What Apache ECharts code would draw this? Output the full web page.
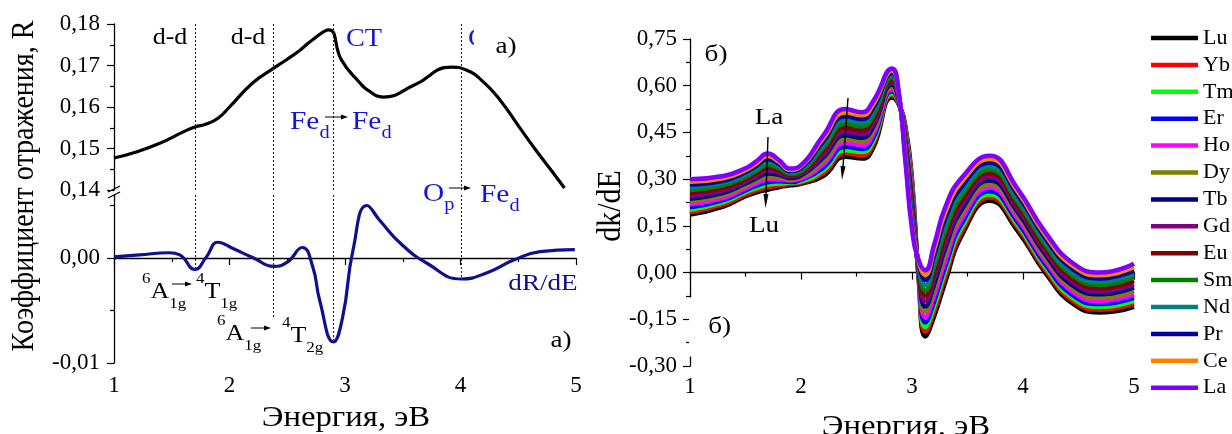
<!DOCTYPE html>
<html>
<head>
<meta charset="utf-8">
<script src="https://cdn.jsdelivr.net/npm/echarts@6/dist/echarts.min.js"></script>
<style>
  html, body { margin: 0; padding: 0; background: #fff; }
  #chart { width: 1232px; height: 434px; }
</style>
</head>
<body>
<div id="chart"></div>
<script>
const FONT = 'Liberation Serif';
const BLUE = '#1414e0';
const NAVY = '#10108f';
const WIDE = 1.13; // horizontal widening of annotation glyphs

// ---- Left panel: reflectance R(E) ----
const energyR = [1.0, 1.2, 1.4, 1.6, 1.7, 1.8, 1.9, 2.0, 2.2, 2.38, 2.5, 2.61, 2.72, 2.86, 2.97, 3.13, 3.2, 3.33, 3.6, 3.92, 4.05, 4.2, 4.35, 4.5, 4.65, 4.8, 4.9];
const reflR   = [0.1477, 0.1492, 0.1513, 0.1540, 0.1552, 0.1559, 0.1573, 0.1600, 0.1658, 0.1693, 0.1715, 0.1737, 0.1762, 0.1786, 0.1713, 0.1658, 0.1640, 0.1624, 0.1653, 0.1696, 0.1689, 0.1660, 0.1614, 0.1555, 0.1497, 0.1442, 0.1405];

// ---- Left panel: derivative dR/dE ----
const energyD = [1.0, 1.22, 1.48, 1.57, 1.7, 1.8, 1.9, 2.03, 2.21, 2.38, 2.5, 2.63, 2.72, 2.78, 2.9, 2.98, 3.07, 3.19, 3.3, 3.48, 3.71, 4.01, 4.23, 4.46, 4.69, 4.99];
const dRdE    = [0.0001, 0.0003, 0.0005, 0.0003, -0.0011, 0.0001, 0.0015, 0.0009, 0.0000, -0.0008, -0.0004, 0.0010, -0.0008, -0.0040, -0.0080, -0.0056, 0.0008, 0.0050, 0.0036, 0.0014, -0.0005, -0.0020, -0.0014, -0.0002, 0.0006, 0.0008];

// transition energies (dotted guides) and where each guide stops on dR/dE
const transitionE   = [1.7, 2.38, 2.9, 4.01];
const transitionLow = [-0.0011, -0.0058, -0.0078, -0.0020];

// axis ranges / tick values
const rTicks = [0.14, 0.18];
const dLabelTicks = [-0.01, 0];
const dMax = 0.006;

// ---- Right panel: dk/dE for the rare-earth series ----
const energyK = [1.0, 1.3, 1.5, 1.6, 1.7, 1.8, 1.9, 2.0, 2.2, 2.4, 2.55, 2.65, 2.82, 2.88, 2.94, 3.0, 3.06, 3.12, 3.2, 3.3, 3.45, 3.7, 3.95, 4.2, 4.45, 4.7, 5.0];
const ionNames  = ['Lu', 'Yb', 'Tm', 'Er', 'Ho', 'Dy', 'Tb', 'Gd', 'Eu', 'Sm', 'Nd', 'Pr', 'Ce', 'La'];
const ionColors = ['#000000', '#ff0000', '#00ff00', '#0000ff', '#ff00ff', '#808000', '#000080', '#800080', '#800000', '#008000', '#008080', '#0000a0', '#ff8000', '#8000ff'];

const kLu = [0.186, 0.212, 0.245, 0.258, 0.266, 0.274, 0.280, 0.285, 0.310, 0.372, 0.366, 0.400, 0.562, 0.540, 0.470, 0.300, -0.020, -0.205, -0.140, -0.030, 0.120, 0.231, 0.135, 0.000, -0.100, -0.128, -0.110];
const kYb = [0.194, 0.219, 0.251, 0.265, 0.274, 0.280, 0.284, 0.289, 0.319, 0.383, 0.376, 0.411, 0.569, 0.543, 0.462, 0.289, -0.016, -0.190, -0.124, -0.013, 0.133, 0.241, 0.145, 0.009, -0.091, -0.119, -0.100];
const kTm = [0.202, 0.226, 0.258, 0.272, 0.282, 0.286, 0.288, 0.293, 0.328, 0.393, 0.387, 0.421, 0.575, 0.546, 0.455, 0.278, -0.012, -0.175, -0.108, 0.004, 0.146, 0.251, 0.154, 0.018, -0.082, -0.110, -0.091];
const kEr = [0.210, 0.233, 0.264, 0.279, 0.290, 0.293, 0.291, 0.298, 0.337, 0.404, 0.397, 0.432, 0.582, 0.548, 0.447, 0.266, -0.007, -0.160, -0.092, 0.020, 0.159, 0.261, 0.163, 0.027, -0.073, -0.101, -0.081];
const kHo = [0.219, 0.240, 0.271, 0.287, 0.300, 0.300, 0.296, 0.302, 0.348, 0.416, 0.409, 0.444, 0.589, 0.552, 0.438, 0.254, -0.003, -0.143, -0.073, 0.040, 0.174, 0.273, 0.174, 0.038, -0.062, -0.091, -0.070];
const kDy = [0.228, 0.248, 0.278, 0.295, 0.309, 0.307, 0.300, 0.307, 0.358, 0.429, 0.421, 0.456, 0.596, 0.555, 0.429, 0.241, 0.002, -0.126, -0.055, 0.059, 0.189, 0.284, 0.185, 0.048, -0.052, -0.081, -0.059];
const kTb = [0.237, 0.256, 0.286, 0.303, 0.318, 0.314, 0.304, 0.312, 0.369, 0.441, 0.433, 0.468, 0.604, 0.558, 0.421, 0.228, 0.007, -0.109, -0.037, 0.078, 0.203, 0.296, 0.196, 0.059, -0.042, -0.070, -0.048];
const kGd = [0.246, 0.264, 0.293, 0.311, 0.328, 0.321, 0.309, 0.317, 0.379, 0.453, 0.445, 0.480, 0.611, 0.561, 0.412, 0.215, 0.012, -0.092, -0.018, 0.097, 0.218, 0.307, 0.207, 0.069, -0.031, -0.060, -0.037];
const kEu = [0.256, 0.272, 0.300, 0.319, 0.337, 0.328, 0.313, 0.322, 0.389, 0.465, 0.457, 0.492, 0.619, 0.564, 0.403, 0.202, 0.017, -0.075, 0.000, 0.116, 0.233, 0.319, 0.217, 0.079, -0.021, -0.050, -0.026];
const kSm = [0.265, 0.280, 0.307, 0.327, 0.346, 0.335, 0.317, 0.326, 0.400, 0.478, 0.469, 0.504, 0.626, 0.568, 0.394, 0.190, 0.021, -0.058, 0.019, 0.136, 0.248, 0.330, 0.228, 0.090, -0.010, -0.040, -0.015];
const kNd = [0.274, 0.288, 0.314, 0.335, 0.355, 0.342, 0.322, 0.331, 0.410, 0.490, 0.481, 0.516, 0.634, 0.571, 0.385, 0.177, 0.026, -0.041, 0.037, 0.155, 0.263, 0.342, 0.239, 0.100, 0.000, -0.029, -0.004];
const kPr = [0.283, 0.295, 0.322, 0.343, 0.365, 0.349, 0.326, 0.336, 0.421, 0.502, 0.493, 0.528, 0.641, 0.574, 0.377, 0.164, 0.031, -0.024, 0.056, 0.174, 0.277, 0.353, 0.250, 0.111, 0.011, -0.019, 0.007];
const kCe = [0.292, 0.303, 0.329, 0.351, 0.374, 0.356, 0.330, 0.341, 0.431, 0.514, 0.505, 0.540, 0.649, 0.577, 0.368, 0.151, 0.036, -0.007, 0.074, 0.193, 0.292, 0.365, 0.261, 0.121, 0.021, -0.009, 0.018];
const kLa = [0.300, 0.310, 0.335, 0.358, 0.382, 0.362, 0.334, 0.345, 0.440, 0.525, 0.515, 0.550, 0.655, 0.580, 0.360, 0.140, 0.040, 0.008, 0.090, 0.210, 0.305, 0.375, 0.270, 0.130, 0.030, 0.000, 0.028];
const dkdE = [kLu, kYb, kTm, kEr, kHo, kDy, kTb, kGd, kEu, kSm, kNd, kPr, kCe, kLa];

// ---------------------------------------------------------------
const pairs = (xs, ys) => xs.map((x, i) => [x, ys[i]]);
const comma = v => { if (Math.abs(v) < 1e-9) v = 0; return v.toFixed(2).replace('.', ','); };

const tickStyle = { color: '#000', width: 1.2 };
const lineAxis = { lineStyle: { color: '#000', width: 1.3 } };
const labelStyle = { color: '#000', fontFamily: FONT, fontSize: 23 };

function xAxisFor(gridIndex, show, margin) {
  return {
    type: 'value', gridIndex, min: 1, max: 5, interval: 1, show,
    axisLine: lineAxis,
    axisTick: { length: 7, lineStyle: tickStyle },
    minorTick: { show: true, splitNumber: 2, length: 4, lineStyle: tickStyle },
    splitLine: { show: false },
    axisLabel: Object.assign({ margin }, labelStyle)
  };
}

// annotation helpers
function text(x, y, str, size, color, extra) {
  extra = extra || {};
  const el = {
    type: 'text', x, y, z: extra.z || 50, silent: true,
    style: Object.assign({
      text: str, fontFamily: FONT, fontSize: size, fill: color || '#000',
      align: 'center', verticalAlign: 'middle', textAlign: 'center', textVerticalAlign: 'middle'
    }, extra.style || {})
  };
  if (extra.rotation) {
    el.rotation = extra.rotation;
    el.scaleY = WIDE;
  } else {
    el.scaleX = WIDE;
  }
  return el;
}

function chem(x, y, str, size, subSize, color) {
  const c = color || '#000';
  return {
    type: 'text', x, y, z: 50, silent: true, scaleX: WIDE,
    style: {
      text: str, fontFamily: FONT, fontSize: size, fill: c,
      align: 'left', verticalAlign: 'middle', textAlign: 'left', textVerticalAlign: 'middle',
      rich: {
        m: { fontFamily: FONT, fontSize: size, lineHeight: 40, fill: c, color: c },
        p: { fontFamily: FONT, fontSize: subSize, lineHeight: 22, verticalAlign: 'top', fill: c, color: c },
        b: { fontFamily: FONT, fontSize: subSize, lineHeight: 14, verticalAlign: 'bottom', fill: c, color: c }
      }
    }
  };
}

function arrow(x1, y1, x2, y2, hl, hw, lw) {
  const a = Math.atan2(y2 - y1, x2 - x1);
  const bx = x2 - hl * Math.cos(a), by = y2 - hl * Math.sin(a);
  const nx = -Math.sin(a) * hw / 2, ny = Math.cos(a) * hw / 2;
  return [
    { type: 'line', z: 50, silent: true, shape: { x1, y1, x2: bx, y2: by }, style: { stroke: '#000', lineWidth: lw || 1.2 } },
    { type: 'polygon', z: 50, silent: true, shape: { points: [[x2, y2], [bx + nx, by + ny], [bx - nx, by - ny]] }, style: { fill: '#000' } }
  ];
}

const graphics = [
  // axis titles
  text(25, 186, 'Коэффициент отражения, R', 28, '#000', { rotation: Math.PI / 2 }),
  text(346, 418, 'Энергия, эВ', 29),
  text(611, 206, 'dk/dE', 30, '#000', { rotation: Math.PI / 2 }),
  text(906, 427, 'Энергия, эВ', 29),

  // break marks on the left axis
  { type: 'line', z: 60, silent: true, shape: { x1: 108, y1: 192, x2: 120, y2: 186 }, style: { stroke: '#000', lineWidth: 1.2 } },
  { type: 'line', z: 60, silent: true, shape: { x1: 108, y1: 198, x2: 120, y2: 192 }, style: { stroke: '#000', lineWidth: 1.2 } },

  // left panel labels
  text(170, 38, 'd-d', 23),
  text(248, 38, 'd-d', 23),
  text(364, 39, 'CT', 25, BLUE),
  text(468, 39, 'CT', 25, BLUE, { style: { align: 'left', textAlign: 'left' } }),
  text(474, 47, 'a)', 24, '#000', { z: 70, style: { align: 'left', textAlign: 'left', backgroundColor: '#fff', padding: [10, 10, 10, 19] } }),
  chem(290, 122, '{m|Fe}{b|d}', 26, 18, BLUE),
  chem(352, 122, '{m|Fe}{b|d}', 26, 18, BLUE),
  chem(423, 194, '{m|O}{b|p}', 26, 18, BLUE),
  chem(480, 195, '{m|Fe}{b|d}', 26, 18, BLUE),
  text(543, 284, 'dR/dE', 24, NAVY),
  chem(142, 292, '{p|6}{m|A}{b|1g}', 23, 15),
  chem(196, 292, '{p|4}{m|T}{b|1g}', 23, 15),
  chem(217, 334, '{p|6}{m|A}{b|1g}', 23, 15),
  chem(282, 336, '{p|4}{m|T}{b|2g}', 23, 15),
  text(561, 341, 'a)', 24),

  // right panel labels
  text(716, 55, 'б)', 24),
  text(689, 327, 'б)', 24, '#000', { z: 70, style: { align: 'left', textAlign: 'left', backgroundColor: '#fff', padding: [13, 8, 22, 17] } }),
  text(769, 118, 'La', 24),
  text(764, 226, 'Lu', 24)
].concat(
  arrow(325, 117, 348, 117, 7, 5, 1),
  arrow(449, 188, 471, 188, 7, 5, 1),
  arrow(172, 284, 192, 284, 7, 5, 1),
  arrow(251, 328, 271, 328, 7, 5, 1),
  arrow(768, 137, 765.5, 208, 14, 5, 1.4),
  arrow(848, 98, 842, 180, 14, 5, 1.4)
);

const series = [
  {
    name: 'R', type: 'line', xAxisIndex: 0, yAxisIndex: 0,
    data: pairs(energyR, reflR), smooth: 0.5, showSymbol: false,
    lineStyle: { color: '#000', width: 3.2 }, itemStyle: { color: '#000' },
    markLine: {
      silent: true, symbol: 'none', label: { show: false },
      lineStyle: { color: '#222', type: [2, 2], width: 1.1 },
      data: transitionE.map(e => ({ xAxis: e }))
    }
  },
  {
    name: 'dR/dE', type: 'line', xAxisIndex: 1, yAxisIndex: 1,
    data: pairs(energyD, dRdE), smooth: 0.5, showSymbol: false,
    lineStyle: { color: NAVY, width: 3.2 }, itemStyle: { color: NAVY },
    markLine: {
      silent: true, symbol: 'none', label: { show: false },
      lineStyle: { color: '#222', type: [2, 2], width: 1.1 },
      data: transitionE.map((e, i) => [{ coord: [e, dMax] }, { coord: [e, transitionLow[i]] }])
    }
  }
].concat(ionNames.map((n, i) => ({
  name: n, type: 'line', xAxisIndex: 2, yAxisIndex: 2,
  data: pairs(energyK, dkdE[i]), smooth: 0.5, showSymbol: false,
  color: ionColors[i],
  lineStyle: { color: ionColors[i], width: 4.5 }, itemStyle: { color: ionColors[i] }
})));

const option = {
  animation: false,
  backgroundColor: '#fff',
  grid: [
    { left: 114, top: 24, width: 462, height: 166 },
    { left: 114, top: 195, width: 462, height: 168 },
    { left: 690, top: 39, width: 444, height: 327 }
  ],
  xAxis: [xAxisFor(0, false, 11), xAxisFor(1, true, 11), xAxisFor(2, true, 9)],
  yAxis: [
    {
      type: 'value', gridIndex: 0, min: rTicks[0], max: rTicks[1], interval: 0.01,
      axisLine: lineAxis,
      axisTick: { length: 7, lineStyle: tickStyle },
      minorTick: { show: true, splitNumber: 2, length: 4, lineStyle: tickStyle },
      splitLine: { show: false },
      axisLabel: Object.assign({ margin: 14, formatter: comma }, labelStyle)
    },
    {
      type: 'value', gridIndex: 1, min: dLabelTicks[0], max: dMax, interval: 0.01,
      axisLine: lineAxis,
      axisTick: { length: 7, lineStyle: tickStyle, customValues: dLabelTicks },
      minorTick: { show: true, splitNumber: 2, length: 4, lineStyle: tickStyle },
      splitLine: { show: false },
      axisLabel: Object.assign({ margin: 14, formatter: comma, customValues: dLabelTicks }, labelStyle)
    },
    {
      type: 'value', gridIndex: 2, min: -0.3, max: 0.75, interval: 0.15,
      axisLine: lineAxis,
      axisTick: { length: 7, lineStyle: tickStyle },
      minorTick: { show: true, splitNumber: 2, length: 4, lineStyle: tickStyle },
      splitLine: { show: false },
      axisLabel: Object.assign({ margin: 13, formatter: comma }, labelStyle)
    }
  ],
  legend: {
    data: ionNames, orient: 'vertical', left: 1146, top: 22,
    itemWidth: 47, itemHeight: 4.5, itemGap: 4.9, icon: 'rect', selectedMode: false,
    textStyle: { color: '#000', fontFamily: FONT, fontSize: 22, lineHeight: 22 }
  },
  graphic: graphics,
  series
};

const chart = echarts.init(document.getElementById('chart'), null, { renderer: 'canvas' });
chart.setOption(option);
</script>
</body>
</html>
